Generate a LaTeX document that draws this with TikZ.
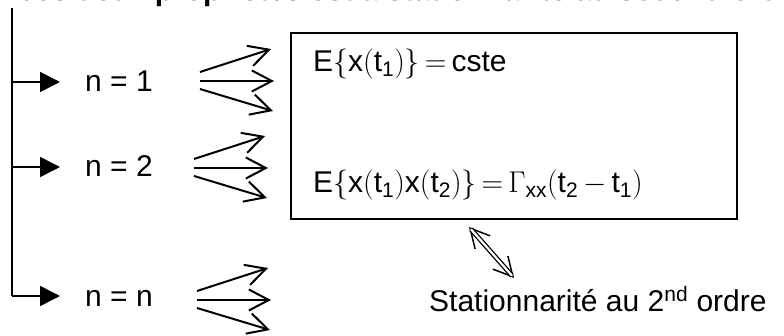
\RequirePackage{fix-cm}
\documentclass[tikz,border=0pt]{standalone}
\usepackage{amsmath}
\usepackage{fontspec}
\setmainfont{Liberation Sans}
\usetikzlibrary{arrows.meta, positioning}

\begin{document}
\begin{tikzpicture}[
        x=1pt, y=-1pt,
        every node/.style={font=\fontsize{30}{36}\selectfont, inner sep=0pt},
        cas/.style={anchor=base west},
        boite/.style={rectangle, draw, line width=1.8pt, anchor=north west, minimum width=446pt, minimum height=186pt},
        tige/.style={line width=1.6pt},
        branche/.style={-{Triangle[length=20pt, width=20pt]}, line width=1.6pt, shorten >=25pt},
        fan/.style={-{Straight Barb[length=20pt, width=21pt]}, line width=2pt},
        dbl/.style={{Straight Barb[length=19pt, width=20pt]}-{Straight Barb[length=19pt, width=20pt]}, line width=1.5pt}
    ]
        \useasboundingbox (0,0) rectangle (784,336);

        % cut-off line at the top
        \begin{scope}
            \clip (0,0) rectangle (784,336);
            \node[cas, font=\fontsize{30}{36}\selectfont\bfseries] (titre) at (18,1) {ces deux propriétés est a stationnarité au second ordre};
        \end{scope}

        % cases n
        \node[cas] (n1) at (85,92) {n = 1};
        \node[cas] (n2) at (85,177) {n = 2};
        \node[cas] (nn) at (85,307) {n = n};

        \coordinate (haut) at (12,8);
        \coordinate (b1) at (12,82);
        \coordinate (b2) at (12,167);
        \coordinate (b3) at (12,296);

        \draw[tige] (haut) -- (b3);
        \draw[branche] (b1) -- (b1 -| n1.west);
        \draw[branche] (b2) -- (b2 -| n2.west);
        \draw[branche] (b3) -- (b3 -| nn.west);

        % triple arrows
        \foreach \i/\x/\y in {1/200/81, 2/194/168, 3/197/300} {
            \coordinate (d\i) at (\x,\y);
            \draw[fan] ([shift={(0,-9)}]d\i) -- ++(71,-23);
            \draw[fan] (d\i) -- ++(74,0);
            \draw[fan] ([shift={(0,8)}]d\i) -- ++(73,22);
        }

        % moments
        \node[boite] (boite) at (290,32) {};
        \node[cas] (eq1) at (313,72) {E$\{$x$($t\textsubscript{1}$)\}\,{=}\,$cste};
        \node[cas] (eq2) at (313,193) {E$\{$x$($t\textsubscript{1}$)$x$($t\textsubscript{2}$)\}\,{=}\,\Gamma$\textsubscript{xx}$($t\textsubscript{2}\,$-$\,t\textsubscript{1}$)$};

        % stationnarite
        \node[cas] (stat) at (429,312) {Stationnarité au 2\textsuperscript{nd} ordre};
        \coordinate (h1) at (469,227);
        \coordinate (h2) at (514,278);
        \draw[dbl] (h1) -- (h2);
        \draw[line width=1.3pt, double distance=2.2pt, shorten <=3pt, shorten >=3pt] (h1) -- (h2);

    \end{tikzpicture}
\end{document}
